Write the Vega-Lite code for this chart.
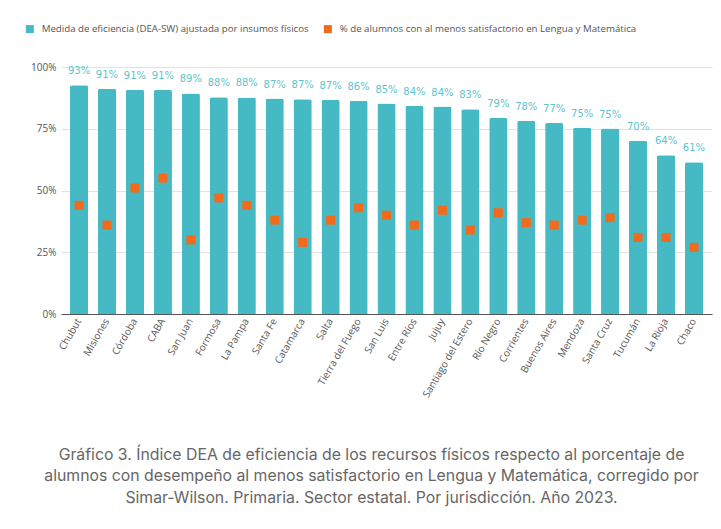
{
  "$schema": "https://vega.github.io/schema/vega-lite/v6.json",
  "autosize": "none",
  "padding": {"left": 61, "top": 67, "right": 9, "bottom": 215},
  "width": 651,
  "height": 247,
  "background": "white",
  "title": {
    "text": [
      "Gráfico 3. Índice DEA de eficiencia de los recursos físicos respecto al porcentaje de",
      "alumnos con desempeño al menos satisfactorio en Lengua y Matemática, corregido por",
      "Simar-Wilson. Primaria. Sector estatal. Por jurisdicción. Año 2023."
    ],
    "orient": "bottom",
    "anchor": "middle",
    "font": "Inter",
    "fontSize": 15.8,
    "fontWeight": "normal",
    "color": "#666666",
    "lineHeight": 21.5,
    "offset": 49,
    "dx": -15
  },
  "data": {
    "values": [
      {"prov": "Chubut", "dea": 0.926, "pct": 0.44},
      {"prov": "Misiones", "dea": 0.912, "pct": 0.36},
      {"prov": "Córdoba", "dea": 0.908, "pct": 0.51},
      {"prov": "CABA", "dea": 0.907, "pct": 0.55},
      {"prov": "San Juan", "dea": 0.893, "pct": 0.30},
      {"prov": "Formosa", "dea": 0.878, "pct": 0.47},
      {"prov": "La Pampa", "dea": 0.877, "pct": 0.44},
      {"prov": "Santa Fe", "dea": 0.872, "pct": 0.38},
      {"prov": "Catamarca", "dea": 0.869, "pct": 0.29},
      {"prov": "Salta", "dea": 0.866, "pct": 0.38},
      {"prov": "Tierra del Fuego", "dea": 0.863, "pct": 0.43},
      {"prov": "San Luis", "dea": 0.852, "pct": 0.40},
      {"prov": "Entre Ríos", "dea": 0.843, "pct": 0.36},
      {"prov": "Jujuy", "dea": 0.840, "pct": 0.42},
      {"prov": "Santiago del Estero", "dea": 0.829, "pct": 0.34},
      {"prov": "Río Negro", "dea": 0.794, "pct": 0.41},
      {"prov": "Corrientes", "dea": 0.782, "pct": 0.37},
      {"prov": "Buenos Aires", "dea": 0.773, "pct": 0.36},
      {"prov": "Mendoza", "dea": 0.754, "pct": 0.38},
      {"prov": "Santa Cruz", "dea": 0.751, "pct": 0.39},
      {"prov": "Tucumán", "dea": 0.701, "pct": 0.31},
      {"prov": "La Rioja", "dea": 0.643, "pct": 0.31},
      {"prov": "Chaco", "dea": 0.614, "pct": 0.27}
    ]
  },
  "encoding": {
    "x": {
      "field": "prov",
      "type": "nominal",
      "sort": null,
      "title": null,
      "scale": {"paddingInner": 0.35, "paddingOuter": 0.32},
      "axis": {
        "labelAngle": -60,
        "labelAlign": "right",
        "labelBaseline": "middle",
        "labelFont": "Open Sans",
        "labelFontSize": 10,
        "labelColor": "#555555",
        "labelPadding": 5,
        "ticks": false,
        "domainColor": "#555555",
        "domainWidth": 1,
        "labelLimit": 200
      }
    }
  },
  "layer": [
    {
      "mark": {"type": "bar", "cornerRadiusTopLeft": 2, "cornerRadiusTopRight": 2},
      "encoding": {
        "y": {
          "field": "dea",
          "type": "quantitative",
          "title": null,
          "scale": {"domain": [0, 1]},
          "axis": {
            "format": ".0%",
            "values": [0, 0.25, 0.5, 0.75, 1],
            "domain": false,
            "ticks": false,
            "labelFont": "Open Sans",
            "labelFontSize": 10,
            "labelColor": "#555555",
            "labelPadding": 5,
            "gridColor": "#e2e2e2"
          }
        },
        "color": {
          "datum": "Medida de eficiencia (DEA-SW) ajustada por insumos físicos",
          "type": "nominal",
          "scale": {
            "domain": [
              "Medida de eficiencia (DEA-SW) ajustada por insumos físicos",
              "% de alumnos con al menos satisfactorio en Lengua y Matemática"
            ],
            "range": ["#45b9c4", "#f26a1c"]
          },
          "legend": {
            "title": null,
            "orient": "none",
            "legendX": -36,
            "legendY": -43,
            "direction": "horizontal",
            "symbolType": "square",
            "symbolSize": 64,
            "symbolStrokeWidth": 0,
            "labelFont": "Open Sans",
            "labelFontSize": 9.7,
            "labelColor": "#555555",
            "labelOffset": 7,
            "labelLimit": 400,
            "columnPadding": 14
          }
        }
      }
    },
    {
      "mark": {
        "type": "text",
        "baseline": "bottom",
        "dy": -9,
        "font": "DejaVu Sans",
        "fontSize": 10,
        "color": "#5cc5cd"
      },
      "encoding": {
        "y": {"field": "dea", "type": "quantitative"},
        "text": {"field": "dea", "type": "quantitative", "format": ".0%"}
      }
    },
    {
      "mark": {"type": "square", "size": 81, "opacity": 1},
      "encoding": {
        "y": {"field": "pct", "type": "quantitative"},
        "color": {
          "datum": "% de alumnos con al menos satisfactorio en Lengua y Matemática",
          "type": "nominal"
        }
      }
    }
  ],
  "config": {
    "view": {"stroke": null}
  }
}
